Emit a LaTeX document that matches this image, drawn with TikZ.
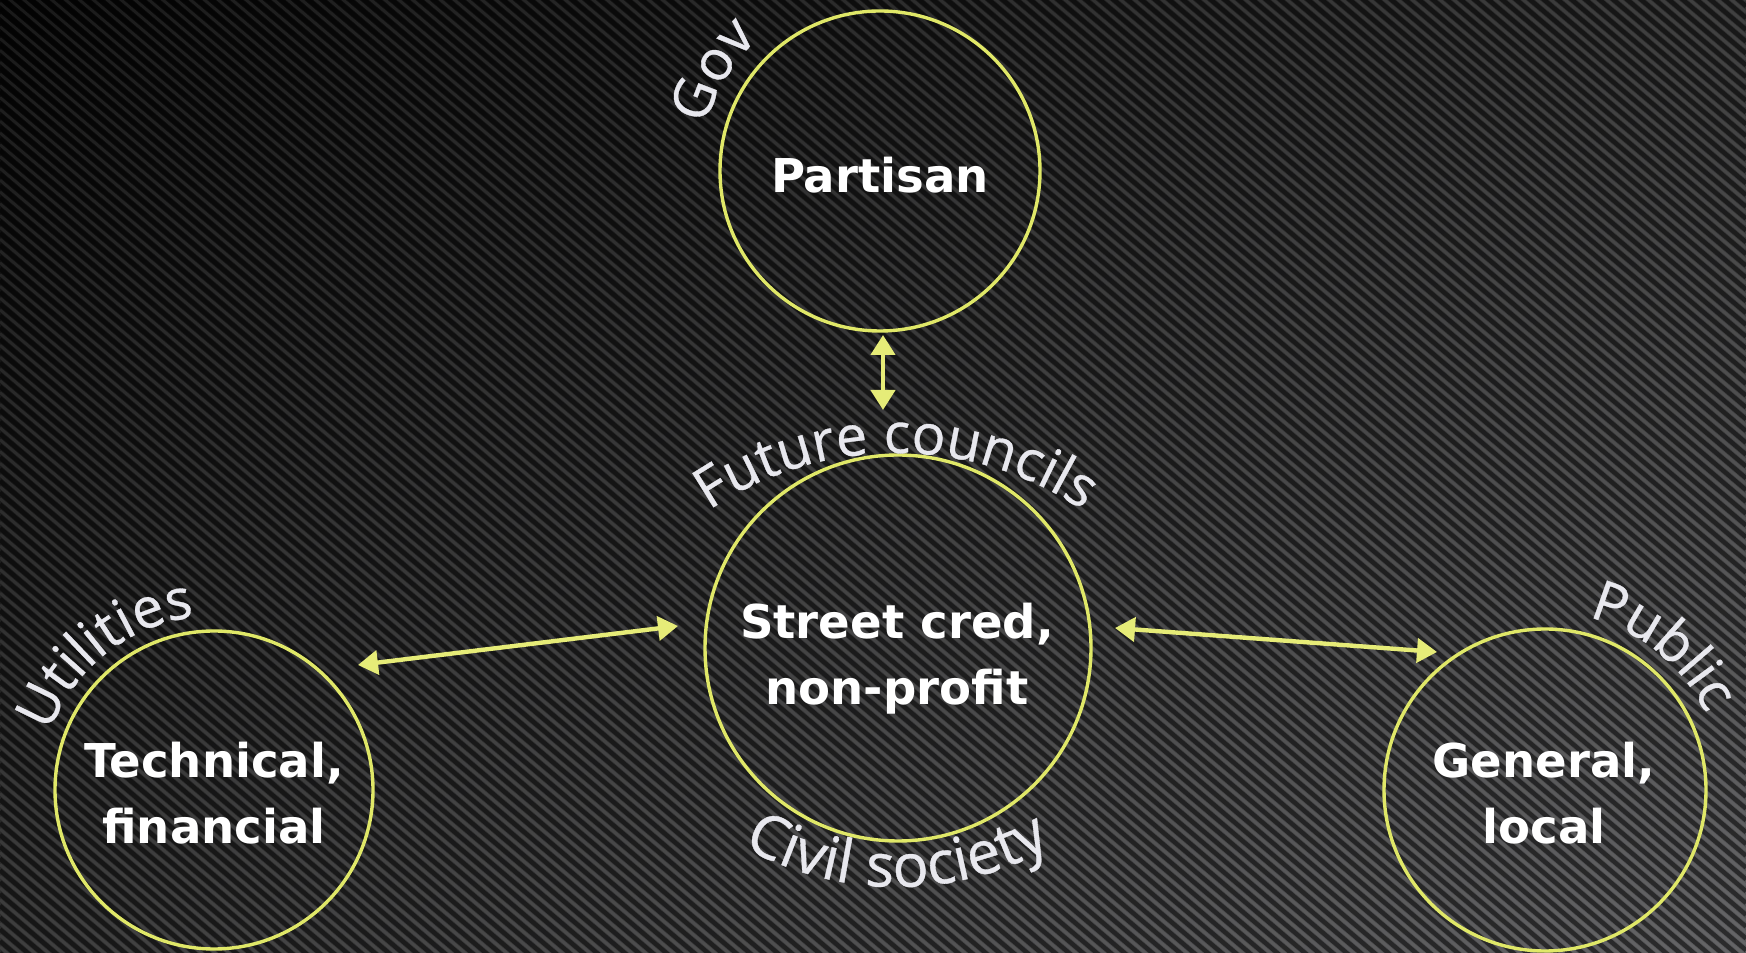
\documentclass[tikz,border=0pt]{standalone}
\usepackage{fontspec}
\usetikzlibrary{arrows.meta,calc,decorations.text,shadings}
\newfontfamily\innerfont{DejaVu Sans}
\newfontfamily\outerfont{Open Sans}[FakeBold=0.6]
\definecolor{ringcol}{RGB}{224,232,104}
\definecolor{arrcol}{RGB}{230,236,120}
\definecolor{lblcol}{RGB}{232,232,238}
\definecolor{bgUL}{RGB}{6,6,6}
\definecolor{bgUR}{RGB}{48,48,48}
\definecolor{bgLL}{RGB}{46,46,46}
\definecolor{bgLR}{RGB}{88,88,90}
\tikzset{
  ring/.style={circle, draw=ringcol, line width=1.7pt, inner sep=0pt},
  inner/.style={text=white, font=\innerfont\bfseries\fontsize{23.3}{33}\selectfont, align=center, inner sep=0pt},
  arr/.style={draw=arrcol, line width=2.2pt, {Triangle[length=10pt,width=12pt]}-{Triangle[length=10pt,width=12pt]}},
  stripe/.style={draw=black, opacity=0.5, line width=2.2pt},
  glint/.style={draw=white, opacity=0.08, line width=1.4pt},
  curved/.style 2 args={decorate, decoration={text along path, text align=center, text color=lblcol, text={|\outerfont\fontsize{#2}{#2}\selectfont|#1}}}
}
\begin{document}
\begin{tikzpicture}[x=0.5pt,y=0.5pt]
\useasboundingbox (0,0) rectangle (1746,953);
\shade[upper left=bgUL, upper right=bgUR, lower left=bgLL, lower right=bgLR] (0,0) rectangle (1746,953);
\begin{scope}
\clip (0,0) rectangle (1746,953);
\foreach \c in {0,11.8,...,2450} {
  \draw[stripe] (0,\c) -- (1746,\c-1484);
  \draw[glint] (0,\c+5.9) -- (1746,\c-1478.1);
}
\end{scope}

% circles
\node[ring, minimum size=160pt] (gov) at (880,782) {};
\node[ring, minimum size=193pt] (civ) at (898,305) {};
\node[ring, minimum size=159pt] (util) at (214,163) {};
\node[ring, minimum size=161pt] (pub) at (1545,163) {};

% inner texts
\node[inner] (govtext) at (880,778) {Partisan};
\node[inner] (civtext) at (897,294) {Street cred,\\non-profit};
\node[inner] (utiltext) at (214,160) {Technical,\\financial};
\node[inner] (pubtext) at (1544,160) {General,\\local};

% arrows
\draw[arr] ($(gov.center)+(3,-164)$) -- ($(civ.center)+(-15,238)$);
\draw[arr] ($(util.center)+(144,125)$) -- ($(civ.center)+(-220,22)$);
\draw[arr] ($(civ.center)+(217,20)$) -- ($(pub.center)+(-108,138)$);

% curved labels
\path[curved={Gov}{28}] ($(gov.center)+(239:180)$) arc[start angle=239, end angle=59, radius=180];
\path[curved={Future councils}{28}] ($(civ.center)+(-335,-138)$) arc[start angle=180, end angle=0, radius=333];
\path[curved={Civil society}{30}] ($(civ.center)+(-313,73)$) arc[start angle=180, end angle=360, radius=312];
\path[curved={Utilities}{28}] ($(util.center)+(218.5:174)$) arc[start angle=218.5, end angle=38.5, radius=174];
\path[curved={Public}{28}] ($(pub.center)+(140.6:178)$) arc[start angle=140.6, end angle=-39.4, radius=178];
\end{tikzpicture}
\end{document}
